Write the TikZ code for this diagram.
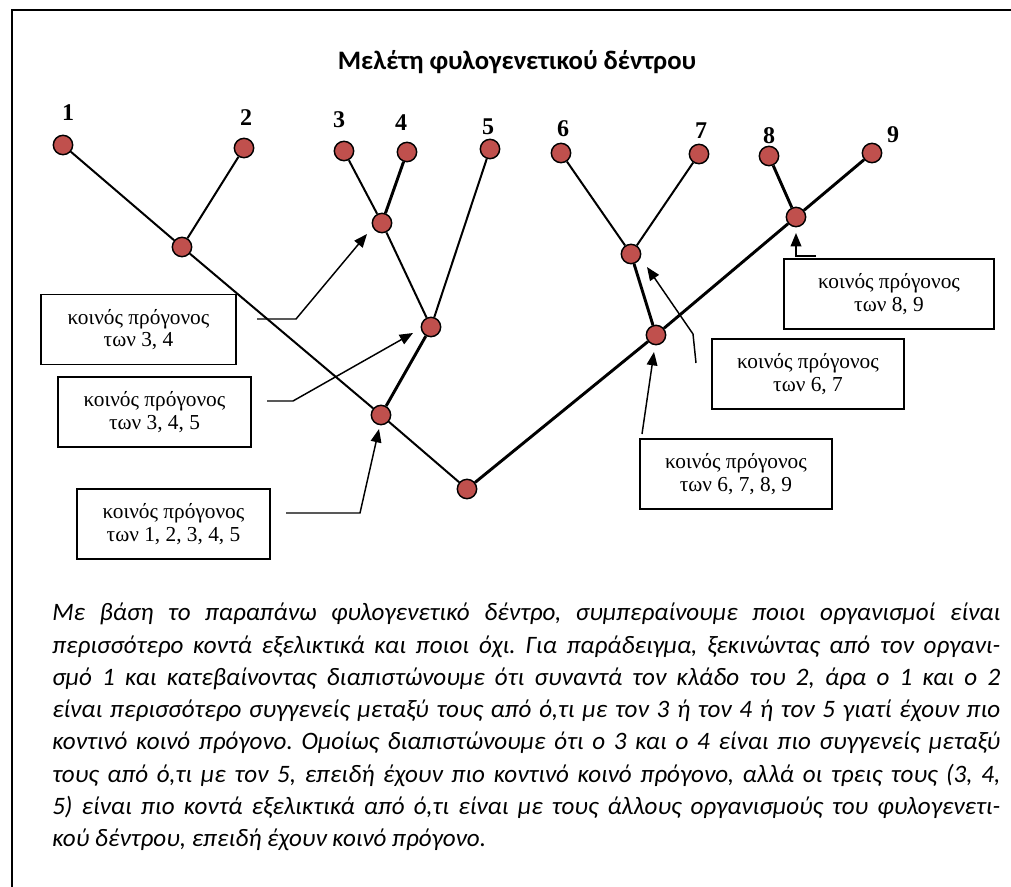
\documentclass[tikz,border=0pt]{standalone}
\usepackage{fontspec}
\setmainfont{Liberation Serif}
\newfontfamily\calibri{Carlito}
\usetikzlibrary{arrows.meta}
\definecolor{nodered}{RGB}{192,80,77}
\tikzset{
	every node/.style={inner sep=0pt},
	taxon/.style={shape=circle,draw=black,line width=1.1pt,fill=nodered,minimum size=14.5pt},
	number/.style={font=\fontsize{18}{18}\selectfont\bfseries},
	box/.style={shape=rectangle,draw=black,line width=1.1pt,align=center,minimum height=52.5pt,font=\fontsize{16}{17}\selectfont},
	branch/.style={line width=1.5pt,draw=black},
	thick-branch/.style={line width=2.2pt,draw=black},
}
\tikzstyle{arrow} = [line width=1.1pt,-{Triangle[length=10pt,width=8pt]}]
\frenchspacing

\begin{document}
\begin{tikzpicture}[x=0.75pt,y=-0.75pt]
	\useasboundingbox (0,0) rectangle (1011,886);
	\clip (0,0) rectangle (1011,886);
	\draw[line width=1.8pt] (12,10) rectangle (1040,920);

	\node[font=\calibri\fontsize{20}{22}\selectfont\bfseries] (title) at (517,62) {Μελέτη φυλογενετικού δέντρου};

	% leaves
	\node[taxon] (n1) at (63,145) {};
	\node[taxon] (n2) at (244,148) {};
	\node[taxon] (n3) at (344,151) {};
	\node[taxon] (n4) at (407,152) {};
	\node[taxon] (n5) at (490,149) {};
	\node[taxon] (n6) at (561,153) {};
	\node[taxon] (n7) at (699,154) {};
	\node[taxon] (n8) at (769,156) {};
	\node[taxon] (n9) at (872,153) {};

	\node[number] (l1) at (68,113) {1};
	\node[number] (l2) at (246,118) {2};
	\node[number] (l3) at (339,120) {3};
	\node[number] (l4) at (401,123) {4};
	\node[number] (l5) at (488,127) {5};
	\node[number] (l6) at (563,129) {6};
	\node[number] (l7) at (701,131) {7};
	\node[number] (l8) at (769,136) {8};
	\node[number] (l9) at (893,135) {9};

	% ancestors
	\node[taxon] (a12) at (182,247) {};
	\node[taxon] (a34) at (382,223) {};
	\node[taxon] (a345) at (431,327) {};
	\node[taxon] (a12345) at (381,415) {};
	\node[taxon] (root) at (467,489) {};
	\node[taxon] (a67) at (631,254) {};
	\node[taxon] (a89) at (796,217) {};
	\node[taxon] (a6789) at (656,335) {};

	\path [branch] (n1) edge (a12);
	\path [branch] (n2) edge (a12);
	\path [branch] (a12) edge (a12345);
	\path [branch] (a12345) edge (root);
	\path [branch] (n3) edge (a34);
	\path [thick-branch] (n4) edge (a34);
	\path [branch] (a34) edge (a345);
	\path [branch] (n5) edge (a345);
	\path [thick-branch] (a345) edge (a12345);
	\path [branch] (n6) edge (a67);
	\path [branch] (n7) edge (a67);
	\path [thick-branch] (a67) edge (a6789);
	\path [thick-branch] (n8) edge (a89);
	\path [thick-branch] (n9) edge (a89);
	\path [thick-branch] (a89) edge (a6789);
	\path [thick-branch] (a6789) edge (root);

	% labels
	\node[box,minimum width=146pt] (b34) at (138.5,329.5) {κοινός πρόγονος\\των 3, 4};
	\node[box,minimum width=145pt] (b345) at (154.5,412) {κοινός πρόγονος\\των 3, 4, 5};
	\node[box,minimum width=145pt] (b12345) at (173.5,524) {κοινός πρόγονος\\των 1, 2, 3, 4, 5};
	\node[box,minimum width=157.5pt] (b89) at (889,294) {κοινός πρόγονος\\των 8, 9};
	\node[box,minimum width=144pt] (b67) at (808,374) {κοινός πρόγονος\\των 6, 7};
	\node[box,minimum width=144pt] (b6789) at (736,474) {κοινός πρόγονος\\των 6, 7, 8, 9};

	\coordinate (s34) at (257,319);
	\coordinate (t34) at (367,234);
	\coordinate (s345) at (267,401);
	\coordinate (t345) at (413,333);
	\coordinate (s12345) at (286,513);
	\coordinate (t12345) at (379,429);
	\coordinate (s89) at (816,256);
	\coordinate (t89) at (796,233);
	\coordinate (s67) at (696,363);
	\coordinate (t67) at (647,267);
	\coordinate (s6789) at (642,434);
	\coordinate (t6789) at (654,352);

	\draw[arrow] (s34) -- ++(39,0) -- (t34);
	\draw[arrow] (s345) -- ++(26,0) -- (t345);
	\draw[arrow] (s12345) -- ++(74,0) -- (t12345);
	\draw[arrow] (s89) -| (t89);
	\draw[arrow] (s67) -- ++(-3,-29) -- (t67);
	\draw[arrow] (s6789) -- (t6789);

	\node[anchor=north west,text width=711pt,align=justify,font=\calibri\itshape\fontsize{18.8}{24.2}\selectfont] (text) at (52,603) {%
	Με βάση το παραπάνω φυλογενετικό δέντρο, συμπεραίνουμε ποιοι οργανισμοί είναι\linebreak
	περισσότερο κοντά εξελικτικά και ποιοι όχι. Για παράδειγμα, ξεκινώντας από τον οργανι-\linebreak
	σμό 1 και κατεβαίνοντας διαπιστώνουμε ότι συναντά τον κλάδο του 2, άρα ο 1 και ο 2\linebreak
	είναι περισσότερο συγγενείς μεταξύ τους από ό,τι με τον 3 ή τον 4 ή τον 5 γιατί έχουν πιο\linebreak
	κοντινό κοινό πρόγονο. Ομοίως διαπιστώνουμε ότι ο 3 και ο 4 είναι πιο συγγενείς μεταξύ\linebreak
	τους από ό,τι με τον 5, επειδή έχουν πιο κοντινό κοινό πρόγονο, αλλά οι τρεις τους (3, 4,\linebreak
	5) είναι πιο κοντά εξελικτικά από ό,τι είναι με τους άλλους οργανισμούς του φυλογενετι-\linebreak
	κού δέντρου, επειδή έχουν κοινό πρόγονο.};
\end{tikzpicture}
\end{document}
